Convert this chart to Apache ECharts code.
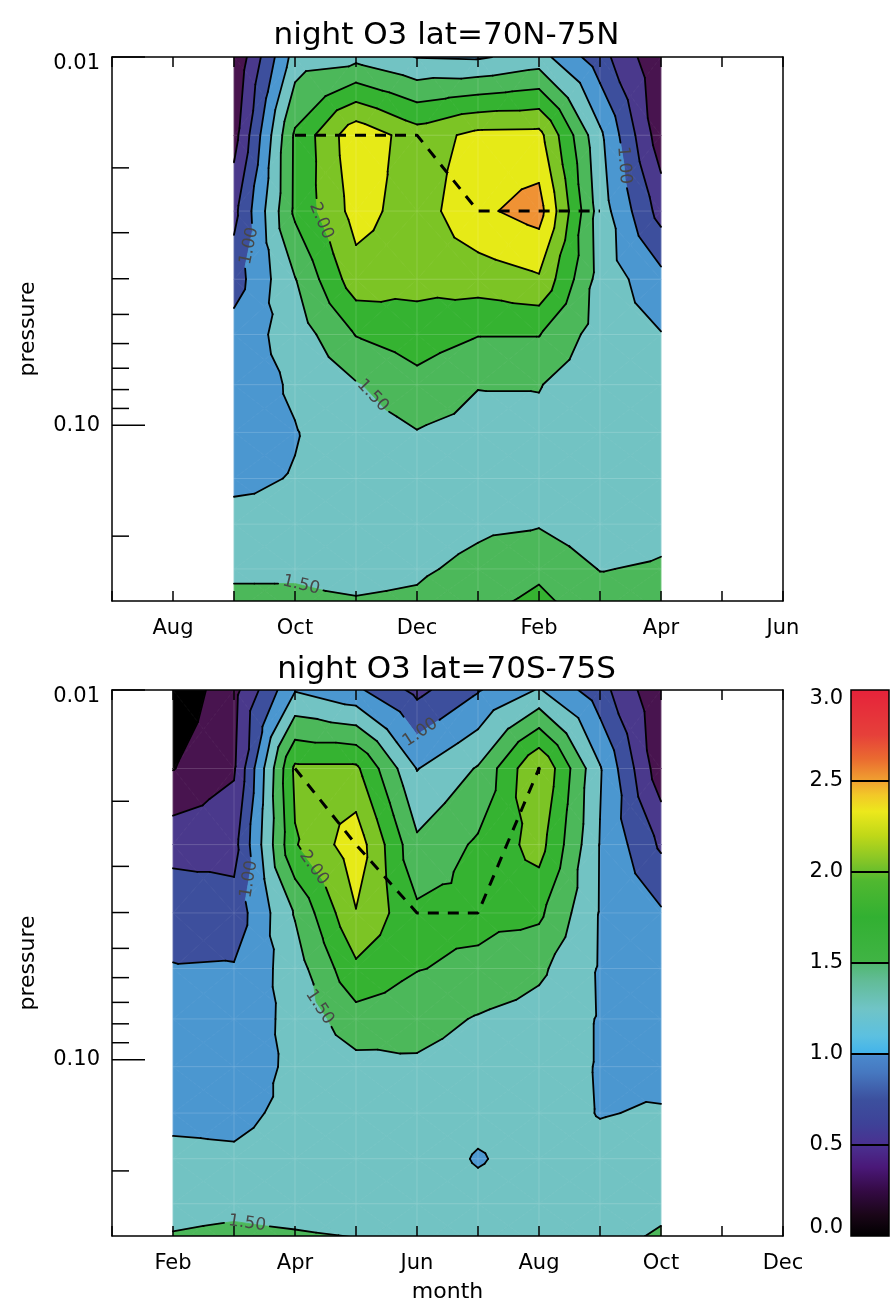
<!DOCTYPE html>
<html><head><meta charset="utf-8">
<script src="https://cdn.jsdelivr.net/npm/echarts@6/dist/echarts.min.js"></script>
<style>html,body{margin:0;padding:0;background:#fff}#c{width:893px;height:1304px}</style>
</head><body><div id="c"></div>
<script>
// ---------------- data ----------------
const MONTH_NAMES = ['Jan','Feb','Mar','Apr','May','Jun','Jul','Aug','Sep','Oct','Nov','Dec'];
const pressureLevels = [0.01, 0.0163, 0.0262, 0.0401, 0.0567, 0.0776, 0.1045, 0.1395, 0.1855, 0.2455, 0.323];

// Northern hemisphere (70N-75N), months 9..16 (Sep..Apr; 13 = Jan of next year)
const nhMonths = [9, 10, 11, 12, 13, 14, 15, 16];
const nhSep = [0.27, 0.40, 0.68, 0.88, 1.11, 1.13, 1.16, 1.21, 1.31, 1.47, 1.56];
const nhOct = [1.36, 1.79, 1.80, 1.49, 1.36, 1.28, 1.24, 1.26, 1.30, 1.47, 1.56];
const nhNov = [1.42, 2.43, 2.35, 2.15, 1.76, 1.48, 1.38, 1.33, 1.35, 1.42, 1.55];
const nhDec = [1.24, 2.12, 2.12, 2.08, 1.88, 1.67, 1.49, 1.38, 1.37, 1.46, 1.57];
const nhJan = [1.22, 2.32, 2.45, 2.12, 1.76, 1.51, 1.42, 1.38, 1.45, 1.57, 1.72];
const nhFeb = [1.35, 2.33, 2.60, 2.22, 1.76, 1.51, 1.45, 1.45, 1.48, 1.70, 1.84];
const nhMar = [0.85, 1.30, 1.38, 1.40, 1.38, 1.35, 1.32, 1.30, 1.33, 1.49, 1.66];
const nhApr = [0.28, 0.35, 0.65, 1.08, 1.26, 1.30, 1.33, 1.36, 1.42, 1.53, 1.60];
const nhPeakMonths = [10, 11, 12, 13, 14, 15];
const nhPeakPressure = [0.0163, 0.0163, 0.0163, 0.0262, 0.0262, 0.0262];

// Southern hemisphere (70S-75S), months 2..10 (Feb..Oct)
const shMonths = [2, 3, 4, 5, 6, 7, 8, 9, 10];
const shFeb = [0.05, 0.24, 0.66, 0.92, 1.01, 1.06, 1.12, 1.20, 1.30, 1.45, 1.53];
const shMar = [0.42, 0.47, 0.66, 0.85, 1.02, 1.08, 1.12, 1.20, 1.28, 1.46, 1.56];
const shApr = [1.23, 2.05, 1.98, 1.52, 1.38, 1.33, 1.30, 1.30, 1.33, 1.43, 1.55];
const shMay = [1.05, 2.05, 2.40, 2.24, 1.95, 1.65, 1.42, 1.36, 1.33, 1.40, 1.53];
const shJun = [0.68, 1.24, 1.55, 1.80, 1.76, 1.60, 1.46, 1.40, 1.38, 1.40, 1.45];
const shJul = [0.98, 1.52, 1.79, 1.82, 1.70, 1.48, 1.38, 1.32, 1.23, 1.33, 1.42];
const shAug = [1.27, 2.26, 2.10, 1.80, 1.55, 1.40, 1.36, 1.35, 1.35, 1.38, 1.43];
const shSep = [0.85, 1.27, 1.24, 1.235, 1.23, 1.235, 1.235, 1.24, 1.32, 1.38, 1.44];
const shOct = [0.28, 0.34, 0.71, 1.03, 1.08, 1.13, 1.17, 1.27, 1.35, 1.45, 1.55];
const shPeakMonths = [4, 5, 6, 7, 8];
const shPeakPressure = [0.0163, 0.0262, 0.0401, 0.0401, 0.0163];

const contourLevels = [0.25, 0.5, 0.75, 1.0, 1.25, 1.5, 1.75, 2.0, 2.25, 2.5, 2.75];
const bandColors = ['#000000','#48144f','#4a398c','#3d4f9d','#4b97d0','#72c3c3','#4cb85a','#35b331','#7cc425','#e6ea17','#ef9234','#e8253a'];
// contour labels: [text, level, month, pressure]
const nhLabels = [['1.00', 1.0, 9.18, 0.0324], ['2.00', 2.0, 10.46, 0.0277], ['1.00', 1.0, 15.38, 0.0197], ['1.50', 1.5, 11.28, 0.0829], ['1.50', 1.5, 10.11, 0.267]];
const shLabels = [['1.00', 1.0, 6.10, 0.0134], ['1.00', 1.0, 3.15, 0.0323], ['2.00', 2.0, 4.21, 0.0311], ['1.50', 1.5, 4.49, 0.0705], ['1.50', 1.5, 3.21, 0.280]];

const yMajorTicks = [0.01, 0.1];
const yMinorTicks = [0.02, 0.03, 0.04, 0.05, 0.06, 0.07, 0.08, 0.09, 0.2];
const colorbarTicks = [0.5, 1.0, 1.5, 2.0, 2.5];
const colorbarStops = [[0,'#000000'],[0.12,'#1a0618'],[0.25,'#340a44'],[0.38,'#4a1878'],[0.5,'#4a3090'],[0.62,'#3e4298'],[0.75,'#3c509e'],[0.9,'#4678c0'],[0.99,'#4a88cc'],[1.01,'#44b4ea'],[1.1,'#5cc0e0'],[1.25,'#70c4c6'],[1.4,'#62bc98'],[1.49,'#52b874'],[1.51,'#40b444'],[1.75,'#32b032'],[1.95,'#50b830'],[2.05,'#80c428'],[2.2,'#c0d818'],[2.33,'#ece81c'],[2.42,'#f2c828'],[2.5,'#f0a030'],[2.62,'#ea6a30'],[2.75,'#e6403a'],[3.0,'#e6223a']];

// ---------------- helpers ----------------
const FONT = '"DejaVu Sans", sans-serif';
function nudge(v){ for (const L of contourLevels) if (Math.abs(v-L) < 1e-7) return v + 1e-5; return v; }
function bandIndex(v){ let b=0; while(b<contourLevels.length && v>=contourLevels[b]) b++; return b; }
function clipPoly(poly, t, above){
  const out=[];
  for(let i=0;i<poly.length;i++){
    const a=poly[i], b=poly[(i+1)%poly.length];
    const ia = above ? a.v>=t : a.v<=t, ib = above ? b.v>=t : b.v<=t;
    if(ia) out.push(a);
    if(ia!==ib){ const f=(t-a.v)/(b.v-a.v); out.push({x:a.x+f*(b.x-a.x), l:a.l+f*(b.l-a.l), v:t}); }
  }
  return out;
}
function cutCircle(p0, p1, c, r){
  const dx=p1[0]-p0[0], dy=p1[1]-p0[1];
  const fx=p0[0]-c[0], fy=p0[1]-c[1];
  const A=dx*dx+dy*dy, B=2*(fx*dx+fy*dy), C=fx*fx+fy*fy-r*r;
  const disc=B*B-4*A*C;
  if(A===0 || disc<=0) return [[p0,p1]];
  const s=Math.sqrt(disc), t1=(-B-s)/(2*A), t2=(-B+s)/(2*A);
  if(t1>=1 || t2<=0) return [[p0,p1]];
  const P=t=>[p0[0]+t*dx, p0[1]+t*dy];
  const out=[];
  if(t1>0) out.push([p0, P(t1)]);
  if(t2<1) out.push([P(t2), p1]);
  return out;
}
function makeContourRender(months, columns, labelDefs){
  return function(params, api){
    const cs = params.coordSys;
    const ly = pressureLevels.map(p=>Math.log10(p));
    const px = (x,l)=>api.coord([x, Math.pow(10,l)]);
    const node=(i,j)=>({x:months[i], l:ly[j], v:nudge(columns[i][j])});
    const fills=[]; const segs=contourLevels.map(()=>[]);
    for(let i=0;i<months.length-1;i++){
      for(let j=0;j<pressureLevels.length-1;j++){
        const A=node(i,j),B=node(i+1,j),C=node(i+1,j+1),D=node(i,j+1);
        const M={x:(A.x+B.x)/2, l:(A.l+D.l)/2, v:nudge((A.v+B.v+C.v+D.v)/4)};
        for(const tri of [[A,B,M],[B,C,M],[C,D,M],[D,A,M]]){
          const vs=tri.map(p=>p.v);
          const b0=bandIndex(Math.min(...vs)), b1=bandIndex(Math.max(...vs));
          for(let b=b0;b<=b1;b++){
            let poly=tri;
            if(b>0) poly=clipPoly(poly, contourLevels[b-1], true);
            if(b<contourLevels.length) poly=clipPoly(poly, contourLevels[b], false);
            if(poly.length>=3){
              fills.push({type:'polygon', shape:{points:poly.map(p=>px(p.x,p.l))},
                style:{fill:bandColors[b], stroke:bandColors[b], lineWidth:0.8}});
            }
          }
          contourLevels.forEach((L,k)=>{
            const pts=[];
            for(let e=0;e<3;e++){
              const a=tri[e], b=tri[(e+1)%3];
              if((a.v-L)*(b.v-L)<0){ const f=(L-a.v)/(b.v-a.v); pts.push(px(a.x+f*(b.x-a.x), a.l+f*(b.l-a.l))); }
            }
            if(pts.length===2) segs[k].push([pts[0],pts[1]]);
          });
        }
      }
    }
    // faint seams along the data grid
    const seams=[];
    const xa=months[0], xb=months[months.length-1];
    pressureLevels.forEach(p=>{ const a=api.coord([xa,p]), b=api.coord([xb,p]);
      seams.push({type:'line', shape:{x1:a[0],y1:a[1],x2:b[0],y2:b[1]}, style:{stroke:'rgba(255,255,255,0.16)', lineWidth:1}}); });
    months.forEach(m=>{ const a=api.coord([m,pressureLevels[0]]), b=api.coord([m,pressureLevels[pressureLevels.length-1]]);
      seams.push({type:'line', shape:{x1:a[0],y1:a[1],x2:b[0],y2:b[1]}, style:{stroke:'rgba(255,255,255,0.16)', lineWidth:1}}); });
    // labels
    const texts=[];
    labelDefs.forEach(([txt, L, m, p])=>{
      const k=contourLevels.indexOf(L); const c=api.coord([m,p]);
      let best=null, bd=1e9;
      for(const s of segs[k]){
        const dx=s[1][0]-s[0][0], dy=s[1][1]-s[0][1]; const A=dx*dx+dy*dy; if(A===0) continue;
        let t=((c[0]-s[0][0])*dx+(c[1]-s[0][1])*dy)/A; t=Math.max(0,Math.min(1,t));
        const q=[s[0][0]+t*dx, s[0][1]+t*dy]; const d=Math.hypot(q[0]-c[0], q[1]-c[1]);
        if(d<bd){bd=d; best={q, dir:[dx,dy]};}
      }
      if(!best) return;
      let sx=best.dir[0], sy=best.dir[1];
      if(Math.hypot(sx,sy)<8){
        for(const s of segs[k]){
          const mx=(s[0][0]+s[1][0])/2, my=(s[0][1]+s[1][1])/2;
          if(Math.hypot(mx-best.q[0], my-best.q[1])>10) continue;
          let dx=s[1][0]-s[0][0], dy=s[1][1]-s[0][1];
          if(dx*best.dir[0]+dy*best.dir[1]<0){dx=-dx; dy=-dy;}
          sx+=dx; sy+=dy;
        }
      }
      let a=Math.atan2(sy,sx); if(a>Math.PI/2) a-=Math.PI; if(a<=-Math.PI/2) a+=Math.PI;
      segs[k]=segs[k].flatMap(s=>cutCircle(s[0], s[1], best.q, 23));
      texts.push({type:'text', x:best.q[0], y:best.q[1], rotation:-a,
        style:{text:txt, fill:'#474747', font:'17px '+FONT, align:'center', verticalAlign:'middle'}});
    });
    const lines=[];
    segs.forEach(list=>list.forEach(s=>{
      lines.push({type:'line', shape:{x1:s[0][0],y1:s[0][1],x2:s[1][0],y2:s[1][1]},
        style:{stroke:'#000', lineWidth:1.8, lineCap:'round'}});
    }));
    return {type:'group', children:[
      {type:'group', clipPath:{type:'rect', shape:{x:cs.x, y:cs.y, width:cs.width, height:cs.height}},
       children:fills.concat(seams, lines)},
      {type:'group', children:texts}
    ]};
  };
}
function makeTickRender(xmin){
  return function(params, api){
    const ch=[];
    yMajorTicks.forEach(v=>{const p=api.coord([xmin,v]); ch.push({type:'line',shape:{x1:p[0],y1:p[1],x2:p[0]+33,y2:p[1]},style:{stroke:'#000',lineWidth:1.5}});});
    yMinorTicks.forEach(v=>{const p=api.coord([xmin,v]); ch.push({type:'line',shape:{x1:p[0],y1:p[1],x2:p[0]+17,y2:p[1]},style:{stroke:'#000',lineWidth:1.5}});});
    return {type:'group', children:ch};
  };
}
function colorbarRender(params, api){
  const p0=api.coord([0,0]), p1=api.coord([1,3]);
  const stops=colorbarStops.map(([v,c])=>({offset:v/3, color:c}));
  const ch=[{type:'rect', shape:{x:p0[0], y:p1[1], width:p1[0]-p0[0], height:p0[1]-p1[1]},
    style:{fill:new echarts.graphic.LinearGradient(0,1,0,0,stops), stroke:'#000', lineWidth:1.5}}];
  colorbarTicks.forEach(v=>{const a=api.coord([0,v]), b=api.coord([1,v]);
    ch.push({type:'line', shape:{x1:a[0],y1:a[1],x2:b[0],y2:b[1]}, style:{stroke:'#000', lineWidth:2}});});
  return {type:'group', children:ch};
}

const LBL = {fontSize:21, color:'#000', fontFamily:FONT};
const monthLabel = v => (Math.round(v)%2===0 ? MONTH_NAMES[(Math.round(v)-1)%12] : '');
const pLabel = v => (Math.abs(v-0.01)<1e-6 ? '{t|0.01}' : (Math.abs(v-0.1)<1e-5 ? '0.10' : ''));
const axisStyle = {lineStyle:{color:'#000', width:1.5}};
function xAxes(grid, min, max, withName){
  return [
    {type:'value', gridIndex:grid, min, max, interval:1, position:'bottom', z:10,
     axisLine:axisStyle, axisTick:{inside:true, length:10, lineStyle:{color:'#000', width:1.5}},
     axisLabel:Object.assign({formatter:monthLabel, margin:17}, LBL),
     splitLine:{show:false},
     name: withName ? 'month' : '', nameLocation:'middle', nameGap:45,
     nameTextStyle:{fontSize:22, color:'#000', fontFamily:FONT}},
    {type:'value', gridIndex:grid, min, max, interval:1, position:'top', z:10,
     axisLine:axisStyle, axisTick:{inside:true, length:10, lineStyle:{color:'#000', width:1.5}},
     axisLabel:{show:false}, splitLine:{show:false}}
  ];
}
function yAxes(grid){
  return [
    {type:'log', logBase:10, gridIndex:grid, min:0.01, max:0.3, inverse:true, position:'left', z:10,
     axisLine:axisStyle, axisTick:{show:false}, splitLine:{show:false}, minorTick:{show:false},
     axisLabel:Object.assign({formatter:pLabel, margin:12, showMaxLabel:false,
       rich:{t:Object.assign({padding:[14,0,0,0]}, LBL)}}, LBL),
     name:'pressure', nameLocation:'middle', nameGap:73, nameRotate:90,
     nameTextStyle:{fontSize:22, color:'#000', fontFamily:FONT}},
    {type:'log', logBase:10, gridIndex:grid, min:0.01, max:0.3, inverse:true, position:'right', z:10,
     axisLine:axisStyle, axisTick:{show:false}, axisLabel:{show:false}, splitLine:{show:false}}
  ];
}
const cbLabel = v => (v===3 ? '{t|3.0}' : (v===0 ? '{b|0.0}' : v.toFixed(1)));

const chart = echarts.init(document.getElementById('c'), null, {renderer:'canvas'});
const nhCols=[nhSep,nhOct,nhNov,nhDec,nhJan,nhFeb,nhMar,nhApr];
const shCols=[shFeb,shMar,shApr,shMay,shJun,shJul,shAug,shSep,shOct];
const TITLE = {fontSize:31, fontWeight:'normal', color:'#000', fontFamily:FONT};
chart.setOption({
  animation:false,
  backgroundColor:'#fff',
  title:[
    {text:'night O3 lat=70N-75N', left:'center', top:15, textStyle:TITLE},
    {text:'night O3 lat=70S-75S', left:'center', top:649, textStyle:TITLE}
  ],
  grid:[
    {left:112, top:57, width:671, height:544, outerBoundsMode:'none'},
    {left:112, top:690, width:671, height:546, outerBoundsMode:'none'},
    {left:851, top:690, width:38, height:546, outerBoundsMode:'none'}
  ],
  xAxis:[...xAxes(0,7,18,false), ...xAxes(1,1,12,true),
    {type:'value', gridIndex:2, min:0, max:1, show:false}],
  yAxis:[...yAxes(0), ...yAxes(1),
    {type:'value', gridIndex:2, min:0, max:3, interval:0.5, position:'left', z:10,
     axisLine:{show:false}, axisTick:{show:false}, splitLine:{show:false},
     axisLabel:Object.assign({formatter:cbLabel, margin:8,
       rich:{t:Object.assign({padding:[18,0,0,0]}, LBL), b:Object.assign({padding:[0,0,16,0]}, LBL)}}, LBL)}],
  series:[
    {type:'custom', xAxisIndex:0, yAxisIndex:0, clip:false, z:2, silent:true,
     renderItem:makeContourRender(nhMonths, nhCols, nhLabels), data:[[nhMonths[0], pressureLevels[0]]]},
    {type:'line', xAxisIndex:0, yAxisIndex:0, z:6, symbol:'none', silent:true,
     data:nhPeakMonths.map((m,i)=>[m, nhPeakPressure[i]]),
     lineStyle:{color:'#000', width:3, type:[11,9]}},
    {type:'custom', xAxisIndex:0, yAxisIndex:0, z:11, silent:true, clip:false,
     renderItem:makeTickRender(7), data:[[7,0.01]]},
    {type:'custom', xAxisIndex:2, yAxisIndex:2, clip:false, z:2, silent:true,
     renderItem:makeContourRender(shMonths, shCols, shLabels), data:[[shMonths[0], pressureLevels[0]]]},
    {type:'line', xAxisIndex:2, yAxisIndex:2, z:6, symbol:'none', silent:true,
     data:shPeakMonths.map((m,i)=>[m, shPeakPressure[i]]),
     lineStyle:{color:'#000', width:3, type:[11,9]}},
    {type:'custom', xAxisIndex:2, yAxisIndex:2, z:11, silent:true, clip:false,
     renderItem:makeTickRender(1), data:[[1,0.01]]},
    {type:'custom', xAxisIndex:4, yAxisIndex:4, z:3, silent:true, clip:false,
     renderItem:colorbarRender, data:[[0,0]]}
  ]
});
</script></body></html>
